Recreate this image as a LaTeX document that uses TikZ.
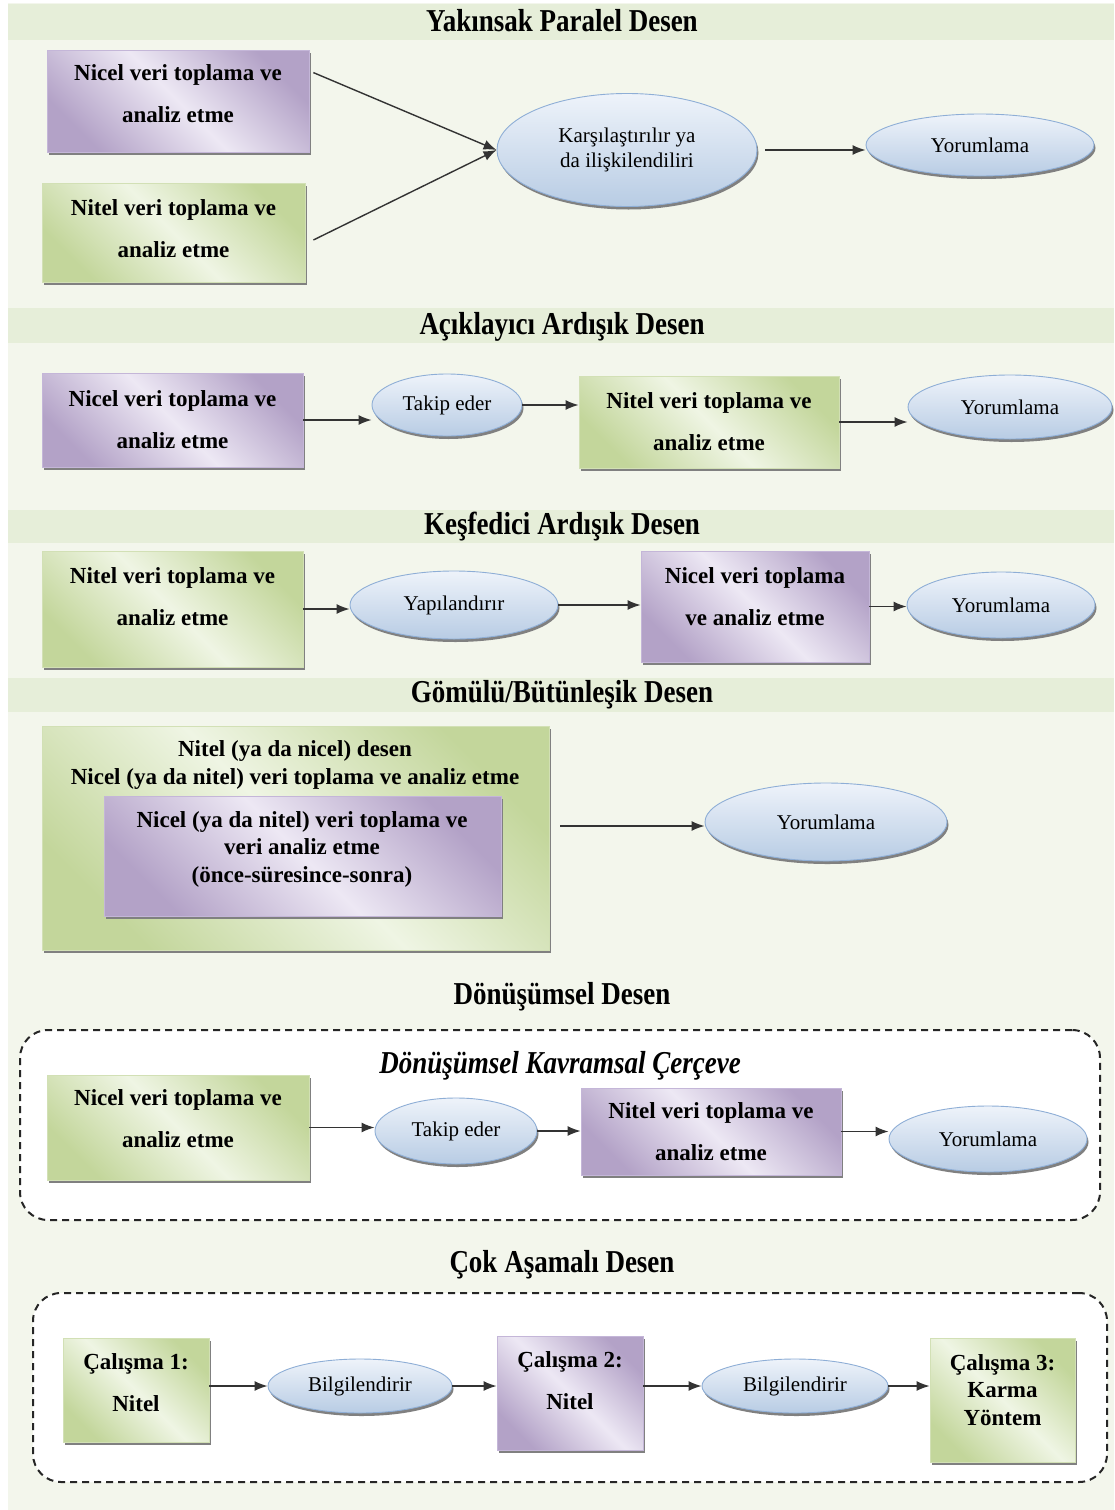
\documentclass[tikz,border=0pt]{standalone}
\usepackage{fontspec}
\usepackage{graphicx}
\setmainfont{Liberation Serif}
\usetikzlibrary{shapes.geometric,shadows,arrows.meta,calc}
\definecolor{bgc}{HTML}{F3F6EC}
\definecolor{bandc}{HTML}{E6EED9}
\definecolor{purD}{HTML}{B3A2C7}
\definecolor{purL}{HTML}{EDE8F4}
\definecolor{purB}{HTML}{C4B6D8}
\definecolor{grnD}{HTML}{C3D69B}
\definecolor{grnL}{HTML}{EFF5E4}
\definecolor{grnB}{HTML}{D2E0B5}
\definecolor{ellT}{HTML}{EEF3FA}
\definecolor{ellB}{HTML}{B8CCE4}
\definecolor{ellE}{HTML}{8EAED6}
\newcommand\bxfont{\fontsize{23}{42}\selectfont\bfseries}
\newcommand\bxfontb{\fontsize{23}{27.5}\selectfont\bfseries}
\newcommand\elfont{\fontsize{21}{25}\selectfont}
\newcommand\ttlfont{\fontsize{27}{30}\selectfont\bfseries}
\newcommand\ttltext[1]{\scalebox{1}[1.18]{#1}}
\tikzset{
  boxbase/.style={rectangle, inner sep=0pt, align=center, font=\bxfont, line width=0.8pt,
    drop shadow={shadow xshift=2pt, shadow yshift=-3pt, fill=black!50, opacity=1}},
  purplebox/.style={boxbase, draw=purB, left color=purD, right color=purD, middle color=purL, shading angle=135},
  greenbox/.style={boxbase, draw=grnB, left color=grnD, right color=grnD, middle color=grnL, shading angle=135},
  ell/.style={ellipse, inner sep=0pt, align=center, font=\elfont, draw=ellE, line width=0.9pt,
    top color=ellT, bottom color=ellB,
    drop shadow={shadow xshift=1.5pt, shadow yshift=-3pt, fill=black!50, opacity=1}},
  arr/.style={-{Latex[length=13pt,width=10pt]}, line width=1.4pt, draw=black!80},
  ttl/.style={inner sep=0pt, font=\ttlfont},
  plaintext/.style={inner sep=0pt, align=center, font=\bxfontb},
  frame/.style={draw=black!85, line width=2pt, dash pattern=on 7pt off 5pt, rounded corners=28pt, fill=white, inner sep=0pt}
}
\begin{document}
\begin{tikzpicture}[x=1pt,y=-1pt]
\useasboundingbox (0,0) rectangle (1114,1510);
\fill[bgc] (8,3) rectangle (1114,1510);
\foreach \a/\b in {4/40, 308/343, 510/543, 678/712} \fill[bandc] (8,\a) rectangle (1114,\b);

% titles
\node[ttl] (t1) at (562,21) {\ttltext{Yakınsak Paralel Desen}};
\node[ttl] (t2) at (562,327) {\ttltext{Açıklayıcı Ardışık Desen}};
\node[ttl] (t3) at (562,527) {\ttltext{Keşfedici Ardışık Desen}};
\node[ttl] (t4) at (562,695) {\ttltext{Gömülü/Bütünleşik Desen}};
\node[ttl] (t5) at (562,997) {\ttltext{Dönüşümsel Desen}};
\node[ttl] (t6) at (562,1265) {\ttltext{Çok Aşamalı Desen}};

% Section 1: Yakinsak Paralel
\node[purplebox, minimum width=262pt, minimum height=102pt, text depth=14pt] (a1) at (178,101) {Nicel veri toplama ve\\analiz etme};
\node[greenbox, minimum width=263pt, minimum height=99pt, text depth=8pt] (b1) at (173.5,232.5) {Nitel veri toplama ve\\analiz etme};
\node[ell, minimum width=260pt, minimum height=113pt] (k1) at (627,150) {Karşılaştırılır ya\\da ilişkilendiliri};
\node[ell, minimum width=228pt, minimum height=62pt] (y1) at (980,145) {Yorumlama};
\coordinate (a1o) at ([xshift=4pt,yshift=-23pt]a1.north east);
\coordinate (b1o) at ([xshift=8pt,yshift=-7.5pt]b1.east);
\draw[arr] (a1o) -- (k1.west);
\draw[arr] (b1o) -- (k1.west);
\draw[arr, shorten <=8pt] (k1.east) -- (k1.east -| y1.west);

% Section 2: Aciklayici Ardisik
\node[purplebox, minimum width=261pt, minimum height=94pt] (a2) at (172.5,420) {Nicel veri toplama ve\\analiz etme};
\node[ell, minimum width=150pt, minimum height=62pt] (b2) at (447,405) {Takip eder};
\node[greenbox, minimum width=260pt, minimum height=92pt] (c2) at (709,422) {Nitel veri toplama ve\\analiz etme};
\node[ell, minimum width=204pt, minimum height=64pt] (d2) at (1010,407) {Yorumlama};
\draw[arr] (a2.east) -- (a2.east -| b2.west);
\draw[arr] (b2.east) -- (b2.east -| c2.west);
\draw[arr] (c2.east) -- (c2.east -| d2.west);

% Section 3: Kesfedici Ardisik
\node[greenbox, minimum width=261pt, minimum height=116pt, text depth=24pt] (a3) at (172.5,609) {Nitel veri toplama ve\\analiz etme};
\node[ell, minimum width=208pt, minimum height=68pt] (b3) at (454,605) {Yapılandırır};
\node[purplebox, minimum width=228pt, minimum height=111pt, text depth=20pt] (c3) at (755,606.5) {Nicel veri toplama\\ve analiz etme};
\node[ell, minimum width=188pt, minimum height=66pt] (d3) at (1001,605) {Yorumlama};
\draw[arr] (a3.east) -- (a3.east -| b3.west);
\draw[arr] (b3.east) -- (b3.east -| c3.west);
\draw[arr] (c3.east) -- (c3.east -| d3.west);

% Section 4: Gomulu
\node[greenbox, minimum width=507pt, minimum height=224pt] (g0) at (295.5,838) {};
\node[plaintext] (g0t) at (295,765) {Nitel (ya da nicel) desen\\Nicel (ya da nitel) veri toplama ve analiz etme};
\node[purplebox, minimum width=397pt, minimum height=120pt] (g1) at (302.5,856) {};
\node[plaintext] (g1t) at (302,849) {Nicel (ya da nitel) veri toplama ve\\veri analiz etme\\(önce-süresince-sonra)};
\node[ell, minimum width=242pt, minimum height=78pt] (g2) at (826,822) {Yorumlama};
\coordinate (g0o) at ([xshift=11pt,yshift=12pt]g0.east);
\draw[arr] (g0o) -- (g0o -| g2.west);

% Section 5: Donusumsel
\node[frame, minimum width=1080pt, minimum height=190pt] (f5) at (560,1125) {};
\node[ttl, font=\ttlfont\itshape] (f5t) at (560,1066) {\ttltext{Dönüşümsel Kavramsal Çerçeve}};
\node[greenbox, minimum width=262pt, minimum height=105pt, text depth=18pt] (a5) at (178,1127.5) {Nicel veri toplama ve\\analiz etme};
\node[ell, minimum width=162pt, minimum height=66pt] (b5) at (456,1131) {Takip eder};
\node[purplebox, minimum width=260pt, minimum height=87pt] (c5) at (711,1131.5) {Nitel veri toplama ve\\analiz etme};
\node[ell, minimum width=198pt, minimum height=66pt] (d5) at (988,1139) {Yorumlama};
\draw[arr] (a5.east) -- (a5.east -| b5.west);
\draw[arr] (b5.east) -- (b5.east -| c5.west);
\draw[arr] (c5.east) -- (c5.east -| d5.west);

% Section 6: Cok Asamali
\node[frame, minimum width=1074pt, minimum height=189pt] (f6) at (570,1387.5) {};
\node[greenbox, minimum width=146pt, minimum height=104pt, text depth=14pt] (a6) at (136,1390) {Çalışma 1:\\Nitel};
\node[ell, minimum width=184pt, minimum height=54pt] (b6) at (360,1386) {Bilgilendirir};
\node[purplebox, minimum width=146pt, minimum height=114pt, text depth=24pt] (c6) at (570,1393) {Çalışma 2:\\Nitel};
\node[ell, minimum width=186pt, minimum height=54pt] (d6) at (795,1386) {Bilgilendirir};
\node[greenbox, minimum width=145pt, minimum height=124pt, font=\bxfontb, text depth=20pt] (e6) at (1002.5,1400) {Çalışma 3:\\Karma\\Yöntem};
\draw[arr] (a6.east |- b6.west) -- (b6.west);
\draw[arr] (b6.east) -- (b6.east -| c6.west);
\draw[arr] (c6.east |- d6.west) -- (d6.west);
\draw[arr] (d6.east) -- (d6.east -| e6.west);
\end{tikzpicture}
\end{document}
